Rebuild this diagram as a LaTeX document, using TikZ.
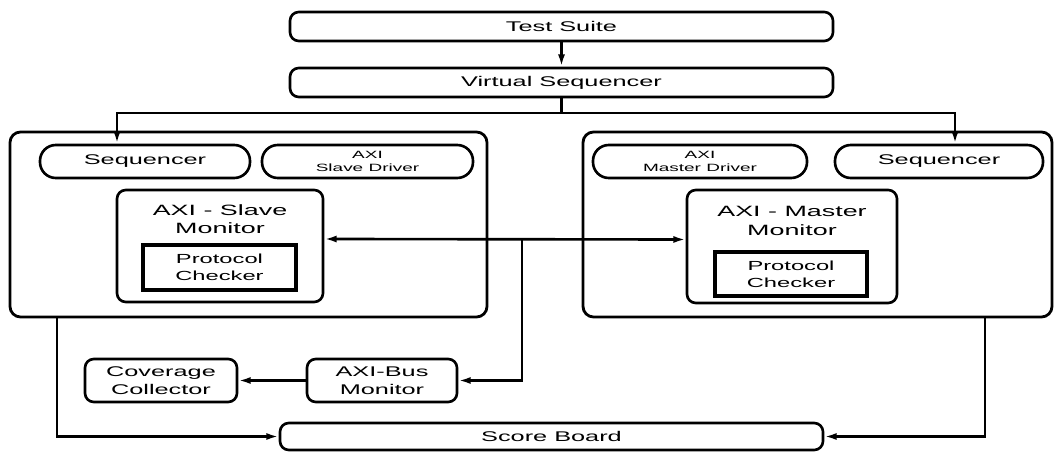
\documentclass[tikz,border=0pt]{standalone}
\usepackage{fontspec}
\newfontfamily\wsans{Liberation Sans}[FakeStretch=1.8]
\usetikzlibrary{arrows.meta,positioning}
\newdimen\pxu \pxu=0.02cm
\tikzset
{
    block/.style   = {rectangle, rounded corners=5pt, draw=black, line width=1.5pt, inner sep=0pt, align=center, font=\wsans\fontsize{8}{10}\selectfont},
    size/.style 2 args = {minimum width=#1\pxu, minimum height=#2\pxu},
    pill/.style    = {block, rounded corners=9pt},
    frame/.style   = {rectangle, rounded corners=6pt, draw=black, line width=1.6pt, inner sep=0pt},
    checker/.style = {block, rounded corners=0pt, line width=1.9pt, font=\wsans\fontsize{7.5}{9.5}\selectfont},
    title/.style   = {align=center, inner sep=0pt, font=\wsans\fontsize{8.5}{10.5}\selectfont},
    small/.style   = {font=\wsans\fontsize{6}{7}\selectfont},
    arrow/.style   = {line width=1.5pt, -{Latex[length=7pt,width=4pt]}},
    biarrow/.style = {line width=1.5pt, {Latex[length=7pt,width=4pt]}-{Latex[length=7pt,width=4pt]}}
}

\begin{document}
\begin{tikzpicture}[x=0.02cm, y=-0.02cm]
	\useasboundingbox (0,0) rectangle (1061,452);

	\node (suite) [block, size={543}{29}] at (561.5,26.5) {Test Suite};
	\node (vseq) [block, size={543}{29}] at (561.5,82.5) {Virtual Sequencer};

	\node (lframe) [frame, size={477}{185}] at (248.5,224.5) {};
	\node (rframe) [frame, size={469}{185}] at (817.5,224.5) {};

	% slave side
	\node (lseq) [pill, size={210}{33}] at (145,161.5) {Sequencer};
	\node (sdrv) [pill, small, size={211}{33}] at (367.5,161.5) {AXI\\Slave Driver};
	\node (smon) [block, size={206}{112}] at (220,246) {};
	\node (smtitle) [title] at (220,219) {AXI - Slave\\Monitor};
	\node (schk) [checker, size={153}{45}] at (219.5,267.5) {Protocol\\Checker};

	% master side
	\node (mdrv) [pill, small, size={214}{33}] at (700,161.5) {AXI\\Master Driver};
	\node (rseq) [pill, size={208}{33}] at (939,161.5) {Sequencer};
	\node (mmon) [block, size={210}{113}] at (792,246.5) {};
	\node (mmtitle) [title] at (792,221) {AXI - Master\\Monitor};
	\node (mchk) [checker, size={152}{44}] at (791,274) {Protocol\\Checker};

	\node (cov) [block, size={152}{43}] at (161,380.5) {Coverage\\Collector};
	\node (abus) [block, size={150}{43}] at (382,380.5) {AXI-Bus\\Monitor};
	\node (score) [block, size={543}{27}] at (551.5,436.5) {Score Board};

	\coordinate (vsplit) at (561.5,113);
	\coordinate (busjoin) at (522,239);

	\draw [arrow] (suite) -- (vseq);
	\draw [arrow] (vseq.south) -- (vsplit) -| ([xshift=-28\pxu]lseq.north);
	\draw [arrow] (vsplit) -| ([xshift=16\pxu]rseq.north);
	\draw [biarrow] ([yshift=7\pxu]smon.east) -- ([yshift=7\pxu]mmon.west);
	\draw [arrow] (busjoin) |- (abus.east);
	\draw [arrow] (abus) -- (cov);
	\draw [arrow] ([xshift=-191.5\pxu]lframe.south) |- (score.west);
	\draw [arrow] ([xshift=167.5\pxu]rframe.south) |- (score.east);

\end{tikzpicture}
\end{document}
